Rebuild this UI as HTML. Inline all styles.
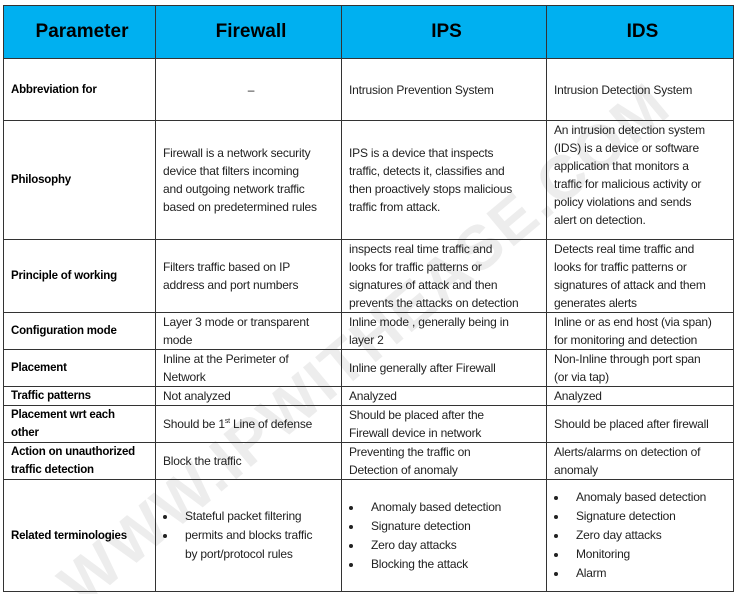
<!DOCTYPE html>
<html><head><meta charset="utf-8"><style>
body{margin:0;width:737px;height:594px;background:#fff;position:relative;overflow:hidden;font-family:"Liberation Sans",Arial,sans-serif;}
table{position:absolute;left:3px;top:5px;border-collapse:collapse;table-layout:fixed;z-index:2}
td,th{border:1px solid #333;padding:0 2px 0 7px;font-size:12px;line-height:18px;color:#222;vertical-align:middle;text-align:left;overflow:hidden;letter-spacing:-0.2px;white-space:nowrap}
th{background:#00B0F0;font-size:19px;font-weight:bold;text-align:center;color:#000;letter-spacing:0}
td.p{font-weight:bold;color:#000;font-size:11.5px;letter-spacing:-0.2px}
td.c{text-align:center}
ul{margin:0;padding-left:14px;list-style:disc}
li{padding-left:8px;line-height:19px}
.wm{position:absolute;left:0;top:0;z-index:1}
</style></head><body>
<svg class="wm" width="737" height="594"><text x="365" y="365" text-anchor="middle" transform="rotate(-40 365 345)" font-family="Liberation Sans,Arial,sans-serif" font-weight="bold" font-size="62" fill="#ededed" letter-spacing="2">WWW.IPWITHEASE.COM</text></svg>
<table>
<colgroup><col style="width:152px"><col style="width:186px"><col style="width:205px"><col style="width:187px"></colgroup>
<tr style="height:53px"><th>Parameter</th><th>Firewall</th><th>IPS</th><th>IDS</th></tr>
<tr style="height:62px"><td class="p">Abbreviation for</td><td class="c">–</td><td>Intrusion Prevention System</td><td>Intrusion Detection System</td></tr>
<tr style="height:119px"><td class="p">Philosophy</td><td>Firewall is a network security<br>device that filters incoming<br>and outgoing network traffic<br>based on predetermined rules</td><td>IPS is a device that inspects<br>traffic, detects it, classifies and<br>then proactively stops malicious<br>traffic from attack.</td><td style="vertical-align:top">An intrusion detection system<br>(IDS) is a device or software<br>application that monitors a<br>traffic for malicious activity or<br>policy violations and sends<br>alert on detection.</td></tr>
<tr style="height:73px"><td class="p">Principle of working</td><td>Filters traffic based on IP<br>address and port numbers</td><td>inspects real time traffic and<br>looks for traffic patterns or<br>signatures of attack and then<br>prevents the attacks on detection</td><td>Detects real time traffic and<br>looks for traffic patterns or<br>signatures of attack and them<br>generates alerts</td></tr>
<tr style="height:36px"><td class="p">Configuration mode</td><td>Layer 3 mode or transparent<br>mode</td><td>Inline mode , generally being in<br>layer 2</td><td>Inline or as end host (via span)<br>for monitoring and detection</td></tr>
<tr style="height:37px"><td class="p">Placement</td><td>Inline at the Perimeter of<br>Network</td><td>Inline generally after Firewall</td><td>Non-Inline through port span<br>(or via tap)</td></tr>
<tr style="height:18px"><td class="p">Traffic patterns</td><td>Not analyzed</td><td>Analyzed</td><td>Analyzed</td></tr>
<tr style="height:36px"><td class="p">Placement wrt each<br>other</td><td>Should be 1<sup style="font-size:7px;line-height:0">st</sup> Line of defense</td><td>Should be placed after the<br>Firewall device in network</td><td>Should be placed after firewall</td></tr>
<tr style="height:36px"><td class="p">Action on unauthorized<br>traffic detection</td><td>Block the traffic</td><td>Preventing the traffic on<br>Detection of anomaly</td><td>Alerts/alarms on detection of<br>anomaly</td></tr>
<tr style="height:112px"><td class="p">Related terminologies</td><td><ul><li>Stateful packet filtering</li><li>permits and blocks traffic<br>by port/protocol rules</li></ul></td><td><ul><li>Anomaly based detection</li><li>Signature detection</li><li>Zero day attacks</li><li>Blocking the attack</li></ul></td><td><ul><li>Anomaly based detection</li><li>Signature detection</li><li>Zero day attacks</li><li>Monitoring</li><li>Alarm</li></ul></td></tr>
</table>
</body></html>
